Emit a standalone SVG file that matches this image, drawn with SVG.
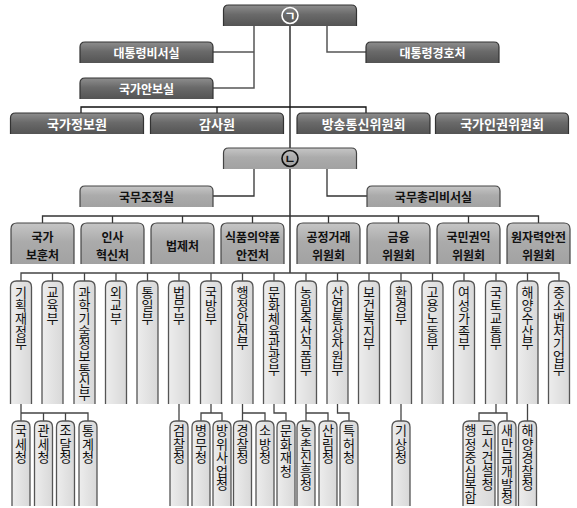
<svg xmlns="http://www.w3.org/2000/svg" xmlns:xlink="http://www.w3.org/1999/xlink" width="577" height="508" viewBox="0 0 577 508">
<defs>
<linearGradient id="gDk" x1="0" y1="0" x2="0" y2="1">
<stop offset="0" stop-color="#8e8e8e"/><stop offset="0.45" stop-color="#6a6a6a"/><stop offset="1" stop-color="#545454"/>
</linearGradient>
<linearGradient id="gMd" x1="0" y1="0" x2="0" y2="1">
<stop offset="0" stop-color="#c6c6c6"/><stop offset="0.45" stop-color="#ababab"/><stop offset="1" stop-color="#a2a2a2"/>
</linearGradient>
<linearGradient id="gLt" x1="0" y1="0" x2="1" y2="0">
<stop offset="0" stop-color="#ededed"/><stop offset="1" stop-color="#d8d8d8"/>
</linearGradient>
<path id="big" d="M-66.5,21V5Q-66.5,0 -61.5,0H61.5Q66.5,0 66.5,5V21"/>
<path id="sec" d="M-31.5,41V6Q-31.5,0 -25.5,0H25.5Q31.5,0 31.5,6V41"/>
<path id="bu" d="M-10.5,123V6Q-10.5,0 -4.5,0H4.5Q10.5,0 10.5,6V123"/>
<path id="ch" d="M-9,85V6Q-9,0 -3,0H3Q9,0 9,6V85"/>
</defs>
<style>
.dk{fill:url(#gDk);stroke:#333;stroke-width:1.2}
.md{fill:url(#gMd);stroke:#444;stroke-width:1.2}
.lt{fill:url(#gLt);stroke:#555;stroke-width:1.3}
.tw{font-family:"Noto Sans CJK KR","Noto Sans",sans-serif;font-weight:bold;font-size:12px;fill:#fff;text-anchor:middle;dominant-baseline:central}
.tw13{font-size:13px}
.tb{font-family:"Noto Sans CJK KR","Noto Sans",sans-serif;font-weight:bold;font-size:12px;fill:#111;text-anchor:middle;dominant-baseline:central}
.t2{font-size:12px}
.circ{font-size:12px}
.v{font-family:"Noto Sans CJK KR","Noto Sans",sans-serif;font-size:13px;fill:#111;writing-mode:vertical-rl;text-orientation:upright;letter-spacing:-0.3px}
.vc{letter-spacing:0.4px}
.k1{fill:none;stroke:#111;stroke-width:1.3}
.k2{fill:none;stroke:#555;stroke-width:1.5}
.k3{fill:none;stroke:#333;stroke-width:1.3}
.k4{fill:none;stroke:#444;stroke-width:1.3}
</style>
<rect width="577" height="508" fill="#fff"/>
<g id="connectors">
<path class="k1" d="M290,26V148M290,169V273M81,113V107H366V113M217,107V113"/>
<path class="k2" d="M254,26V88H213M254,52H213M327,26V52H366"/>
<path class="k3" d="M254,169V196H213M327,169V196H367"/>
<path class="k3" d="M42.5,223V216H538.5V223M112.5,216V223M182.5,216V223M252.5,216V223M328.5,216V223M398.5,216V223M468.5,216V223"/>
<path class="k4" d="M21,281V273H559V281M52.5,273V281M84.5,273V281M116,273V281M147.5,273V281M179,273V281M211,273V281M242.5,273V281M274,273V281M306,273V281M337.5,273V281M369,273V281M401,273V281M432.5,273V281M464,273V281M496,273V281M527.5,273V281"/>
<path class="k4" d="M21,404V421M21,413H88V421M43.5,413V421M65.5,413V421M179,404V421M211,404V413M201,421V413H222V421M242.5,404V421M242.5,413H265V421M274,404V413H286V421M306,404V421M306,413H328V421M337.5,404V413H349V421M401,404V421M496,404V413M479,421V413H507V421M527.5,404V421"/>
</g>
<g id="n-giyeok"><use href="#big" x="290" y="5" class="dk"/><circle cx="290" cy="15.5" r="8" fill="none" stroke="#fff" stroke-width="1.6"/><text class="tw circ" x="290" y="15.5">ㄱ</text></g>
<g id="n-biseo"><use href="#big" x="146.5" y="42" class="dk"/><text class="tw" x="146.5" y="52.5">대통령비서실</text></g>
<g id="n-anbo"><use href="#big" x="146.5" y="78" class="dk"/><text class="tw" x="146.5" y="88.5">국가안보실</text></g>
<g id="n-gyeongho"><use href="#big" x="432.5" y="42" class="dk"/><text class="tw" x="432.5" y="52.5">대통령경호처</text></g>
<g id="n-gukjeong"><use href="#big" x="77" y="113" class="dk"/><text class="tw tw13" x="77" y="123.5">국가정보원</text></g>
<g id="n-gamsa"><use href="#big" x="217" y="113" class="dk"/><text class="tw tw13" x="217" y="123.5">감사원</text></g>
<g id="n-bangtong"><use href="#big" x="363.5" y="113" class="dk"/><text class="tw tw13" x="363.5" y="123.5">방송통신위원회</text></g>
<g id="n-ingwon"><use href="#big" x="502" y="113" class="dk"/><text class="tw tw13" x="502" y="123.5">국가인권위원회</text></g>
<g id="n-nieun"><use href="#big" x="290" y="148" class="md"/><circle cx="290" cy="158.5" r="8" fill="none" stroke="#111" stroke-width="1.6"/><text class="tb circ" x="290" y="158.5">ㄴ</text></g>
<g id="n-gukmujojeong"><use href="#big" x="146.5" y="186" class="md"/><text class="tb" x="146.5" y="196.5">국무조정실</text></g>
<g id="n-chongri"><use href="#big" x="433.5" y="186" class="md"/><text class="tb" x="433.5" y="196.5">국무총리비서실</text></g>
<g id="n-bohun"><use href="#sec" x="42.5" y="223" class="md"/><text class="tb t2" x="42.5" y="236.5">국가</text><text class="tb t2" x="42.5" y="254">보훈처</text></g>
<g id="n-insa"><use href="#sec" x="112.5" y="223" class="md"/><text class="tb t2" x="112.5" y="236.5">인사</text><text class="tb t2" x="112.5" y="254">혁신처</text></g>
<g id="n-beopje"><use href="#sec" x="182.5" y="223" class="md"/><text class="tb t2" x="182.5" y="245.5">법제처</text></g>
<g id="n-sikyak"><use href="#sec" x="252.5" y="223" class="md"/><text class="tb t2" x="252.5" y="236.5">식품의약품</text><text class="tb t2" x="252.5" y="254">안전처</text></g>
<g id="n-gongjeong"><use href="#sec" x="328.5" y="223" class="md"/><text class="tb t2" x="328.5" y="236.5">공정거래</text><text class="tb t2" x="328.5" y="254">위원회</text></g>
<g id="n-geumyung"><use href="#sec" x="398.5" y="223" class="md"/><text class="tb t2" x="398.5" y="236.5">금융</text><text class="tb t2" x="398.5" y="254">위원회</text></g>
<g id="n-gwonik"><use href="#sec" x="468.5" y="223" class="md"/><text class="tb t2" x="468.5" y="236.5">국민권익</text><text class="tb t2" x="468.5" y="254">위원회</text></g>
<g id="n-wonjaryeok"><use href="#sec" x="538.5" y="223" class="md"/><text class="tb t2" x="538.5" y="236.5">원자력안전</text><text class="tb t2" x="538.5" y="254">위원회</text></g>
<g id="bu01"><use href="#bu" x="21" y="281" class="lt"/><text class="v" x="21" y="286">기획재정부</text></g>
<g id="bu02"><use href="#bu" x="52.5" y="281" class="lt"/><text class="v" x="52.5" y="286">교육부</text></g>
<g id="bu03"><use href="#bu" x="84.5" y="281" class="lt"/><text class="v" x="84.5" y="286">과학기술정보통신부</text></g>
<g id="bu04"><use href="#bu" x="116" y="281" class="lt"/><text class="v" x="116" y="286">외교부</text></g>
<g id="bu05"><use href="#bu" x="147.5" y="281" class="lt"/><text class="v" x="147.5" y="286">통일부</text></g>
<g id="bu06"><use href="#bu" x="179" y="281" class="lt"/><text class="v" x="179" y="286">법무부</text></g>
<g id="bu07"><use href="#bu" x="211" y="281" class="lt"/><text class="v" x="211" y="286">국방부</text></g>
<g id="bu08"><use href="#bu" x="242.5" y="281" class="lt"/><text class="v" x="242.5" y="286">행정안전부</text></g>
<g id="bu09"><use href="#bu" x="274" y="281" class="lt"/><text class="v" x="274" y="286">문화체육관광부</text></g>
<g id="bu10"><use href="#bu" x="306" y="281" class="lt"/><text class="v" x="306" y="286">농림축산식품부</text></g>
<g id="bu11"><use href="#bu" x="337.5" y="281" class="lt"/><text class="v" x="337.5" y="286">산업통상자원부</text></g>
<g id="bu12"><use href="#bu" x="369" y="281" class="lt"/><text class="v" x="369" y="286">보건복지부</text></g>
<g id="bu13"><use href="#bu" x="401" y="281" class="lt"/><text class="v" x="401" y="286">환경부</text></g>
<g id="bu14"><use href="#bu" x="432.5" y="281" class="lt"/><text class="v" x="432.5" y="286">고용노동부</text></g>
<g id="bu15"><use href="#bu" x="464" y="281" class="lt"/><text class="v" x="464" y="286">여성가족부</text></g>
<g id="bu16"><use href="#bu" x="496" y="281" class="lt"/><text class="v" x="496" y="286">국토교통부</text></g>
<g id="bu17"><use href="#bu" x="527.5" y="281" class="lt"/><text class="v" x="527.5" y="286">해양수산부</text></g>
<g id="bu18"><use href="#bu" x="559" y="281" class="lt"/><text class="v" x="559" y="286">중소벤처기업부</text></g>
<g id="ch01"><use href="#ch" x="21" y="421" class="lt"/><text class="v vc" x="21" y="424">국세청</text></g>
<g id="ch02"><use href="#ch" x="43.5" y="421" class="lt"/><text class="v vc" x="43.5" y="424">관세청</text></g>
<g id="ch03"><use href="#ch" x="65.5" y="421" class="lt"/><text class="v vc" x="65.5" y="424">조달청</text></g>
<g id="ch04"><use href="#ch" x="88" y="421" class="lt"/><text class="v vc" x="88" y="424">통계청</text></g>
<g id="ch05"><use href="#ch" x="179" y="421" class="lt"/><text class="v vc" x="179" y="424">검찰청</text></g>
<g id="ch06"><use href="#ch" x="201" y="421" class="lt"/><text class="v vc" x="201" y="424">병무청</text></g>
<g id="ch07"><use href="#ch" x="222" y="421" class="lt"/><text class="v vc" x="222" y="424">방위사업청</text></g>
<g id="ch08"><use href="#ch" x="242.5" y="421" class="lt"/><text class="v vc" x="242.5" y="424">경찰청</text></g>
<g id="ch09"><use href="#ch" x="265" y="421" class="lt"/><text class="v vc" x="265" y="424">소방청</text></g>
<g id="ch10"><use href="#ch" x="286" y="421" class="lt"/><text class="v vc" x="286" y="424">문화재청</text></g>
<g id="ch11"><use href="#ch" x="306" y="421" class="lt"/><text class="v vc" x="306" y="424">농촌진흥청</text></g>
<g id="ch12"><use href="#ch" x="328" y="421" class="lt"/><text class="v vc" x="328" y="424">산림청</text></g>
<g id="ch13"><use href="#ch" x="349" y="421" class="lt"/><text class="v vc" x="349" y="424">특허청</text></g>
<g id="ch14"><use href="#ch" x="401" y="421" class="lt"/><text class="v vc" x="401" y="424">기상청</text></g>
<g id="ch15"><path class="lt" d="M463,506V427Q463,421 469,421H489Q495,421 495,427V506"/><text class="v vc" x="470.5" y="424"><tspan x="470.5" y="424">행정중심복합</tspan><tspan x="487.5" y="424">도시건설청</tspan></text></g>
<g id="ch16"><use href="#ch" x="507" y="421" class="lt"/><text class="v vc" x="507" y="424">새만금개발청</text></g>
<g id="ch17"><use href="#ch" x="527.5" y="421" class="lt"/><text class="v vc" x="527.5" y="424">해양경찰청</text></g>
</svg>
